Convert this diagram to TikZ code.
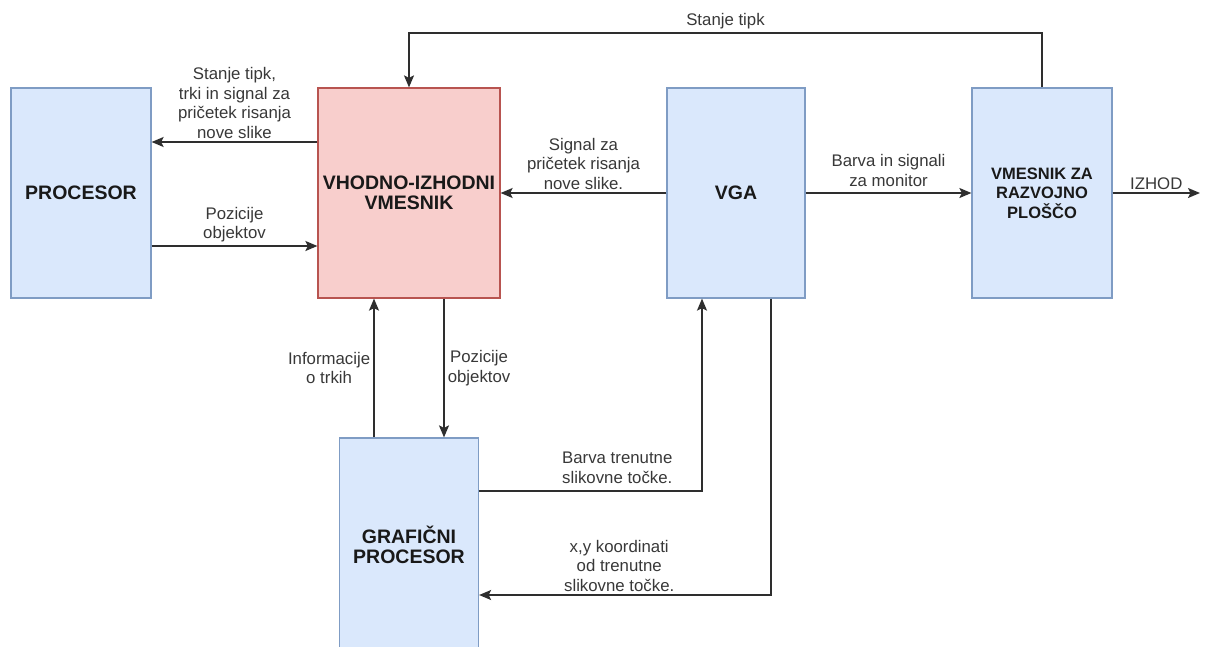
\documentclass[tikz,border=0pt]{standalone}
\usepackage{fontspec}
\setmainfont{Liberation Sans}
\usetikzlibrary{arrows.meta}
\definecolor{modrapolnilo}{HTML}{DAE8FC}
\definecolor{modrarob}{HTML}{7F9CC4}
\definecolor{rdecepolnilo}{HTML}{F8CECC}
\definecolor{rdecarob}{HTML}{B85450}
\begin{document}
\begin{tikzpicture}[x=1pt,y=-1pt,
    blok/.style={draw=modrarob, fill=modrapolnilo, line width=1.2pt, inner sep=0pt,
      align=center, font=\fontsize{19.5}{20}\selectfont\bfseries, text=black!90},
    povezava/.style={draw=black!82, line width=1.6pt,
      -{Stealth[length=12pt,width=10pt,inset=2.5pt]}},
    oznaka/.style={font=\fontsize{16.8}{19.5}\selectfont, text=black!78, align=center, inner sep=3pt}]
  \clip (0,0) rectangle (1211,646);

  % bloki
  \node[blok, minimum width=140pt, minimum height=210pt] (procesor) at (81,193) {PROCESOR};
  \node[blok, draw=rdecarob, fill=rdecepolnilo, minimum width=182pt, minimum height=210pt]
    (vmesnik) at (409,193) {VHODNO-IZHODNI\\VMESNIK};
  \node[blok, minimum width=138pt, minimum height=210pt] (vga) at (736,193) {VGA};
  \node[blok, minimum width=140pt, minimum height=210pt, font=\fontsize{16.5}{19.5}\selectfont\bfseries]
    (plosca) at (1042,193) {VMESNIK ZA\\RAZVOJNO\\PLOŠČO};
  \node[blok, minimum width=139pt, minimum height=214pt] (grafika) at (409,545) {GRAFIČNI\\PROCESOR};
  \coordinate (izhod) at (1200,193);
  \coordinate (vrh) at (0,33);

  % povezave
  \draw[povezava] ([yshift=51pt]vmesnik.west) -- node[oznaka, above]
    {Stanje tipk,\\trki in signal za\\pričetek risanja\\nove slike} ([yshift=51pt]procesor.east);
  \draw[povezava] ([yshift=-53pt]procesor.east) -- node[oznaka, above]
    {Pozicije\\objektov} ([yshift=-53pt]vmesnik.west);
  \draw[povezava] (vga) -- node[oznaka, above] {Signal za\\pričetek risanja\\nove slike.} (vmesnik);
  \draw[povezava] (vga) -- node[oznaka, above, yshift=3pt] {Barva in signali\\za monitor} (plosca);
  \draw[povezava] (plosca) -- node[oznaka, above] {IZHOD} (izhod);
  \draw[povezava] (plosca.north) -- (plosca.north |- vrh) -| node[oznaka, above, pos=0.25]
    {Stanje tipk} (vmesnik.north);
  \draw[povezava] ([xshift=-35pt]grafika.north) -- node[oznaka, left]
    {Informacije\\o trkih} ([xshift=-35pt]vmesnik.south);
  \draw[povezava] ([xshift=35pt]vmesnik.south) -- node[oznaka, right]
    {Pozicije\\objektov} ([xshift=35pt]grafika.north);
  \draw[povezava] ([yshift=54pt]grafika.east) -| node[oznaka, above, pos=0.31, yshift=4pt]
    {Barva trenutne\\slikovne točke.} ([xshift=-34pt]vga.south);
  \draw[povezava] ([xshift=35pt]vga.south) |- node[oznaka, above, pos=0.76]
    {x,y koordinati\\od trenutne\\slikovne točke.} ([yshift=-50pt]grafika.east);
\end{tikzpicture}
\end{document}
